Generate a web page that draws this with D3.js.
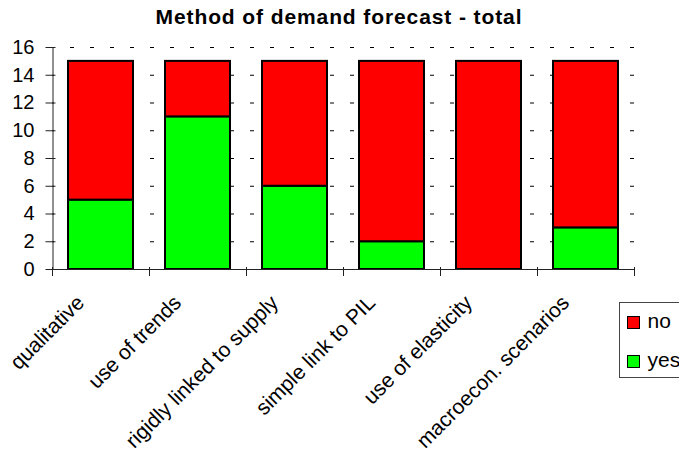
<!DOCTYPE html>
<html>
<head>
<meta charset="utf-8">
<script src="https://cdn.jsdelivr.net/npm/d3@7"></script>
<style>
  body { margin: 0; background: #fff; }
  text { font-family: "Liberation Sans", Arial, sans-serif; }
</style>
</head>
<body>
<svg id="chart" width="679" height="457"></svg>
<script>
const categories = ["qualitative", "use of trends", "rigidly linked to supply",
        "simple link to PIL", "use of elasticity", "macroecon. scenarios"],
    yesValues = [5, 11, 6, 2, 0, 3],
    noValues = [10, 4, 9, 13, 15, 12],
    seriesNames = ["yes", "no"],
    seriesColors = ["#00ff00", "#ff0000"],
    yTicks = [0, 2, 4, 6, 8, 10, 12, 14, 16];

const svg = d3.select("#chart"),
    plotLeft = 52, plotRight = 634, plotTop = 47, plotBottom = 269;

const rows = categories.map((c, i) => ({ cat: c, yes: yesValues[i], no: noValues[i] }));
const stack = d3.stack().keys(seriesNames)(rows);

const x = d3.scaleBand()
    .domain(categories)
    .range([plotLeft, plotRight])
    .paddingInner(0.33)
    .paddingOuter(0.165);
const step = x.step();
const y = d3.scaleLinear().domain([0, 16]).range([plotBottom, plotTop]);

// title
svg.append("text")
    .attr("x", 339).attr("y", 24)
    .attr("text-anchor", "middle")
    .attr("font-size", 21)
    .attr("font-weight", "bold")
    .attr("letter-spacing", 0.9)
    .text("Method of demand forecast - total");

// dashed gridlines
svg.append("g").selectAll("line")
    .data(yTicks.filter(d => d > 0))
    .enter().append("line")
    .attr("x1", plotLeft).attr("x2", plotRight)
    .attr("y1", d => y(d) + 0.5).attr("y2", d => y(d) + 0.5)
    .attr("stroke", "#000")
    .attr("stroke-dasharray", "4,16")
    .attr("stroke-dashoffset", 2);

// bars
const color = d3.scaleOrdinal().domain(seriesNames).range(seriesColors);
svg.append("g").selectAll("g")
    .data(stack)
    .enter().append("g")
    .attr("fill", d => color(d.key))
    .selectAll("rect")
    .data(d => d.filter(p => p[1] > p[0]))
    .enter().append("rect")
    .attr("x", d => x(d.data.cat))
    .attr("width", x.bandwidth())
    .attr("y", d => y(d[1]))
    .attr("height", d => y(d[0]) - y(d[1]))
    .attr("stroke", "#000")
    .attr("stroke-width", 2);

// y axis
const yAxis = svg.append("g")
    .attr("transform", `translate(${plotLeft + 0.5},0)`)
    .call(d3.axisLeft(y).tickValues(yTicks).tickSize(7).tickPadding(11).tickSizeOuter(0));
yAxis.select(".domain").attr("stroke", "#222");
yAxis.selectAll(".tick line").attr("x2", -7).attr("x1", 3).attr("stroke", "#222");
yAxis.selectAll(".tick text")
    .attr("font-size", 20)
    .attr("font-family", "Liberation Sans, Arial, sans-serif")
    .attr("fill", "#000");

// x axis: line with ticks at category boundaries
const xg = svg.append("g");
xg.append("line")
    .attr("x1", plotLeft).attr("x2", plotRight)
    .attr("y1", plotBottom + 0.5).attr("y2", plotBottom + 0.5)
    .attr("stroke", "#222");
xg.selectAll("line.tk")
    .data(d3.range(categories.length + 1))
    .enter().append("line")
    .attr("class", "tk")
    .attr("x1", i => plotLeft + i * step + 0.5).attr("x2", i => plotLeft + i * step + 0.5)
    .attr("y1", plotBottom - 2).attr("y2", plotBottom + 7)
    .attr("stroke", "#222");
xg.selectAll("text")
    .data(categories)
    .enter().append("text")
    .attr("text-anchor", "end")
    .attr("font-size", 21)
    .attr("transform", d => `translate(${x(d) + x.bandwidth() / 2 - 15},304) rotate(-45)`)
    .text(d => d);

// legend (cut off by the right edge, as in the original)
const lg = svg.append("g");
lg.append("rect")
    .attr("x", 619.5).attr("y", 302.5)
    .attr("width", 80).attr("height", 75)
    .attr("fill", "#fff")
    .attr("stroke", "#444");
const legendItems = ["no", "yes"];
lg.selectAll("g.item")
    .data(legendItems)
    .enter().append("g")
    .attr("class", "item")
    .attr("transform", (d, i) => `translate(627.5,${316.5 + i * 39})`)
    .call(g => {
        g.append("rect")
            .attr("width", 12).attr("height", 12)
            .attr("fill", d => color(d))
            .attr("stroke", "#000");
        g.append("text")
            .attr("x", 20).attr("y", 11)
            .attr("font-size", 21)
            .text(d => d);
    });
</script>
</body>
</html>
